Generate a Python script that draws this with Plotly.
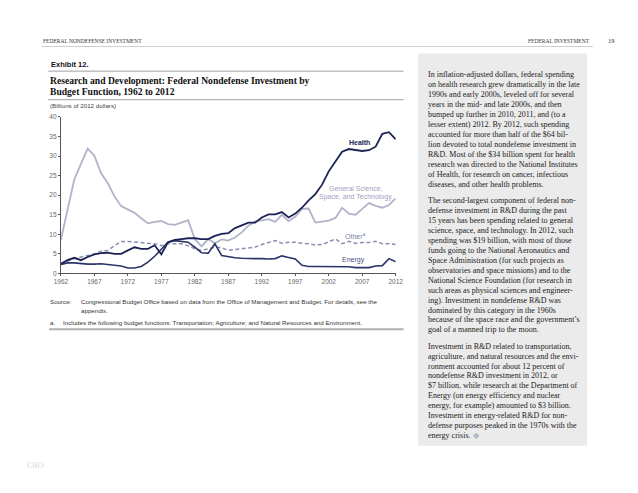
import plotly.graph_objects as go

# page size; the page body adds an 8px offset, so the figure is drawn 8px smaller
W, H = 638, 493
OFF = 8
FW, FH = W - OFF, H - OFF

years = list(range(1962, 2013))
health = [2.5, 3.4, 4.0, 3.4, 4.2, 4.9, 5.2, 5.3, 5.0, 5.0,
          5.9, 6.7, 6.3, 6.3, 7.2, 4.9, 8.0, 8.6, 8.8, 9.0,
          9.0, 8.8, 8.8, 9.6, 10.1, 10.3, 11.6, 12.2, 13.0, 13.0,
          14.3, 15.1, 15.1, 15.7, 14.3, 15.3, 16.8, 18.7, 20.3, 22.7,
          26.1, 28.6, 31.1, 31.8, 31.5, 31.3, 31.5, 32.4, 35.7, 36.1,
          34.3]
general_science = [8.6, 16.0, 24.0, 28.0, 31.9, 30.1, 25.6, 23.1, 19.7, 17.2,
                   16.4, 15.5, 14.1, 12.8, 13.2, 13.4, 12.6, 12.4, 13.0, 13.6,
                   8.8, 6.9, 8.8, 7.7, 8.7, 8.4, 9.2, 10.5, 12.2, 13.3,
                   13.6, 13.9, 13.2, 15.0, 13.4, 14.5, 16.5, 16.6, 13.0, 13.2,
                   13.5, 14.2, 16.8, 15.3, 15.0, 16.5, 18.0, 17.3, 16.8, 17.5,
                   19.2]
other = [2.5, 3.2, 3.8, 4.2, 4.6, 5.0, 5.7, 5.9, 7.1, 8.2,
         8.2, 8.1, 7.9, 7.7, 7.6, 7.1, 7.6, 7.6, 7.6, 7.1,
         6.3, 5.9, 6.3, 6.7, 6.6, 5.9, 6.1, 6.3, 6.6, 6.7,
         7.4, 8.0, 8.4, 7.7, 8.0, 8.0, 7.7, 7.6, 7.3, 7.4,
         8.0, 8.8, 7.6, 8.2, 7.7, 7.9, 7.9, 8.2, 7.6, 7.6,
         7.4]
energy = [2.3, 2.7, 2.7, 2.5, 2.4, 2.4, 2.5, 2.3, 2.1, 1.9,
          1.4, 1.4, 1.8, 2.9, 4.4, 6.3, 8.0, 8.4, 8.2, 8.0,
          6.7, 5.3, 5.2, 7.6, 4.6, 4.2, 4.0, 3.9, 3.8, 3.8,
          3.8, 3.7, 3.8, 4.5, 4.1, 3.7, 2.1, 1.8, 1.8, 1.8,
          1.7, 1.8, 1.8, 1.7, 1.5, 1.5, 1.5, 1.9, 2.0, 3.8,
          3.0]

x_ticks = [1962, 1967, 1972, 1977, 1982, 1987, 1992, 1997, 2002, 2007, 2012]
y_ticks = [0, 5, 10, 15, 20, 25, 30, 35, 40]

para1 = [
    "In inflation-adjusted dollars, federal spending",
    "on health research grew dramatically in the late",
    "1990s and early 2000s, leveled off for several",
    "years in the mid- and late 2000s, and then",
    "bumped up further in 2010, 2011, and (to a",
    "lesser extent) 2012. By 2012, such spending",
    "accounted for more than half of the $64 bil-",
    "lion devoted to total nondefense investment in",
    "R&D. Most of the $34 billion spent for health",
    "research was directed to the National Institutes",
    "of Health, for research on cancer, infectious",
    "diseases, and other health problems.",
]
para2 = [
    "The second-largest component of federal non-",
    "defense investment in R&D during the past",
    "15 years has been spending related to general",
    "science, space, and technology. In 2012, such",
    "spending was $19 billion, with most of those",
    "funds going to the National Aeronautics and",
    "Space Administration (for such projects as",
    "observatories and space missions) and to the",
    "National Science Foundation (for research in",
    "such areas as physical sciences and engineer-",
    "ing). Investment in nondefense R&D was",
    "dominated by this category in the 1960s",
    "because of the space race and the government\u2019s",
    "goal of a manned trip to the moon.",
]
para3 = [
    "Investment in R&D related to transportation,",
    "agriculture, and natural resources and the envi-",
    "ronment accounted for about 12 percent of",
    "nondefense R&D investment in 2012, or",
    "$7 billion, while research at the Department of",
    "Energy (on energy efficiency and nuclear",
    "energy, for example) amounted to $3 billion.",
    "Investment in energy-related R&D for non-",
    "defense purposes peaked in the 1970s with the",
    "energy crisis. <span style='color:#b5b8cc'>\u25c6</span>",
]


def px(x):
    return (x - OFF) / FW


def py(y):
    return 1 - (y - OFF) / FH


SANS = "Liberation Sans"
SERIF = "Liberation Serif"

fig = go.Figure()
fig.add_trace(go.Scatter(x=years, y=general_science, mode="lines",
                         line=dict(color="#b1b3c9", width=1.8), hoverinfo="skip"))
fig.add_trace(go.Scatter(x=years, y=other, mode="lines",
                         line=dict(color="#8a8fb2", width=1.5, dash="4px,2.5px"), hoverinfo="skip"))
fig.add_trace(go.Scatter(x=years, y=energy, mode="lines",
                         line=dict(color="#2b3468", width=1.6), hoverinfo="skip"))
fig.add_trace(go.Scatter(x=years, y=health, mode="lines",
                         line=dict(color="#1b2356", width=1.8), hoverinfo="skip"))

ann = []


def text(t, x, y, size, color="#222", family=SANS, xanchor="left", yanchor="middle", ref="paper"):
    if ref == "paper":
        ann.append(dict(text=t, x=px(x), y=py(y), xref="paper", yref="paper",
                        xanchor=xanchor, yanchor=yanchor, showarrow=False,
                        font=dict(size=size, color=color, family=family)))
    else:
        ann.append(dict(text=t, x=x, y=y, xref="x", yref="y",
                        xanchor=xanchor, yanchor=yanchor, showarrow=False,
                        font=dict(size=size, color=color, family=family)))


# header
text("FEDERAL NONDEFENSE INVESTMENT", 35, 37, 5.5, "#333", SERIF)
text("FEDERAL INVESTMENT", 599, 37, 5.5, "#333", SERIF, xanchor="right")
text("19", 619, 37, 6.5, "#333", SERIF, xanchor="center")

# exhibit / title
text("<b>Exhibit 12.</b>", 43, 61, 7.5, "#111", SANS)
text("<b>Research and Development: Federal Nondefense Investment by</b>", 42, 77, 9.6, "#111", SERIF)
text("<b>Budget Function, 1962 to 2012</b>", 42, 89, 9.6, "#111", SERIF)
text("(Billions of 2012 dollars)", 42, 103, 6.2, "#444", SANS)

# series labels (data coordinates)
text("<b>Health</b>", 2006.6, 33.6, 7, "#1b2356", SANS, xanchor="center", ref="data")
text("General Science,", 2006.0, 21.7, 7, "#9fa2bd", SANS, xanchor="center", ref="data")
text("Space, and Technology", 2006.0, 19.6, 7, "#9fa2bd", SANS, xanchor="center", ref="data")
text("Other<sup>a</sup>", 2006.0, 9.7, 7, "#7a7fa3", SANS, xanchor="center", ref="data")
text("Energy", 2005.7, 3.5, 7, "#4a5285", SANS, xanchor="center", ref="data")

# footnotes
text("Source:", 42, 302, 6.2, "#333", SANS)
text("Congressional Budget Office based on data from the Office of Management and Budget. For details, see the",
     74, 302, 6.2, "#333", SANS)
text("appendix.", 74, 311, 6.2, "#333", SANS)
text("a.", 42, 323, 6.2, "#333", SANS)
text("Includes the following budget functions: Transportation; Agriculture; and Natural Resources and Environment.",
     55, 323, 6.2, "#333", SANS)

# body text
for start, lines in ((71.7, para1), (199.3, para2), (347.0, para3)):
    for i, line in enumerate(lines):
        text(line, 429, start + i * 10.1, 8.0, "#222", SERIF)

text("CBO", 18, 468, 8, "#d8d8d8", SERIF)

shapes = [
    dict(type="rect", xref="paper", yref="paper", x0=px(421), x1=px(594), y0=py(448), y1=py(50),
         fillcolor="#ebebeb", line=dict(width=0), layer="below"),
    dict(type="line", xref="paper", yref="paper", x0=px(35), x1=px(600), y0=py(43), y1=py(43),
         line=dict(color="#cfcfcf", width=1)),
    dict(type="line", xref="paper", yref="paper", x0=px(42), x1=px(406), y0=py(68), y1=py(68),
         line=dict(color="#a0a0a0", width=1)),
    dict(type="line", xref="paper", yref="paper", x0=px(42), x1=px(406), y0=py(97), y1=py(97),
         line=dict(color="#a0a0a0", width=1)),
    dict(type="line", xref="paper", yref="paper", x0=px(43), x1=px(406), y0=py(330), y1=py(330),
         line=dict(color="#b0b0b0", width=2)),
]

fig.update_layout(
    width=FW, height=FH,
    margin=dict(l=0, r=0, t=0, b=0),
    paper_bgcolor="white", plot_bgcolor="white",
    showlegend=False,
    annotations=ann, shapes=shapes,
    xaxis=dict(domain=[px(55), px(398)], range=[1962, 2012], tickvals=x_ticks,
               ticktext=[str(v) for v in x_ticks], ticks="outside", ticklen=2,
               tickcolor="#555", showline=True, linecolor="#555", linewidth=1,
               showgrid=False, zeroline=False, tickangle=0,
               tickfont=dict(size=6.5, color="#666", family=SANS)),
    yaxis=dict(domain=[py(273.3), py(114.5)], range=[0, 40], tickvals=y_ticks,
               ticks="outside", ticklen=2, tickcolor="#555", showline=True,
               linecolor="#555", linewidth=1, showgrid=False, zeroline=False,
               tickfont=dict(size=6.5, color="#666", family=SANS)),
)

fig.write_html("out.html")
